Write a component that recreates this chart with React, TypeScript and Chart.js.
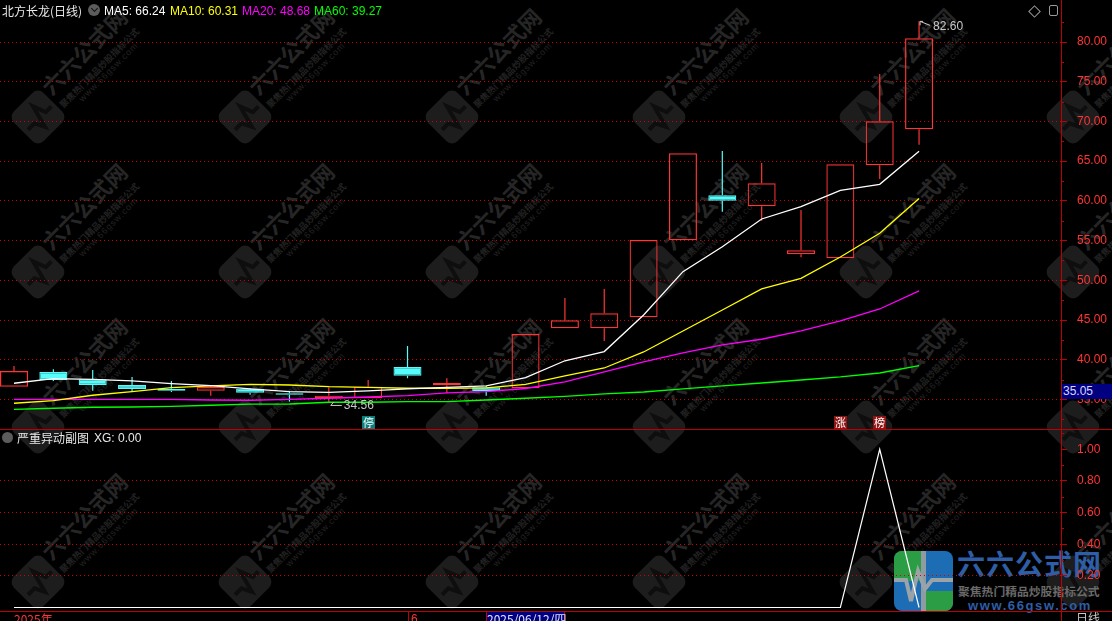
import React, { useEffect, useRef } from 'react';
import { Chart, registerables } from 'chart.js';

Chart.register(...registerables);

// ---------- data ----------
const opens = [36.61, 38.46, 37.54, 36.82, 36.36, 36.10, 36.36, 35.78, 35.15, 35.15, 39.09, 36.79, 36.53, 36.41, 43.96, 43.96, 45.34, 55.04, 60.70, 59.32, 53.28, 52.77, 64.48, 69.01];
const closes = [38.59, 37.45, 36.82, 36.32, 36.10, 36.57, 35.85, 35.60, 35.48, 36.61, 37.99, 37.08, 36.07, 43.24, 44.97, 45.85, 55.08, 65.99, 60.02, 62.21, 53.78, 64.61, 70.02, 80.47];
const highs = [39.21, 38.80, 38.71, 37.83, 37.33, 36.62, 36.45, 36.07, 36.53, 37.45, 41.73, 37.67, 36.70, 43.24, 47.78, 48.91, 55.08, 65.99, 66.28, 64.77, 58.85, 64.61, 75.97, 82.60];
const lows = [36.61, 37.33, 36.10, 35.98, 35.94, 35.48, 35.60, 34.72, 34.56, 35.15, 37.67, 35.78, 35.48, 36.41, 43.96, 42.36, 45.34, 55.04, 58.64, 57.50, 52.90, 52.77, 62.75, 67.07];

const ma5 = [37.04, 37.62, 37.54, 37.33, 36.99, 36.73, 36.32, 35.98, 35.90, 36.07, 36.32, 36.53, 36.70, 37.74, 39.87, 41.03, 45.63, 51.09, 54.23, 57.72, 59.27, 61.33, 62.09, 66.24];
const ma10 = [34.52, 34.85, 35.53, 35.98, 36.48, 36.70, 36.91, 36.82, 36.61, 36.53, 36.41, 36.41, 36.45, 36.91, 37.96, 38.96, 40.98, 43.62, 46.26, 48.91, 50.25, 52.93, 55.92, 60.31];
const ma20 = [35.02, 35.02, 35.02, 35.02, 35.02, 34.93, 34.90, 35.02, 35.15, 35.31, 35.48, 35.82, 35.98, 36.38, 37.20, 38.46, 39.72, 40.85, 41.86, 42.58, 43.62, 44.88, 46.39, 48.68];
const ma60 = [33.76, 33.89, 34.02, 34.05, 34.14, 34.27, 34.40, 34.43, 34.65, 34.65, 34.72, 34.72, 34.93, 35.15, 35.38, 35.69, 35.94, 36.32, 36.70, 37.07, 37.45, 37.83, 38.33, 39.27];

const xg = [0, 0, 0, 0, 0, 0, 0, 0, 0, 0, 0, 0, 0, 0, 0, 0, 0, 0, 0, 0, 0, 0, 1, 0];

const priceTicks = [35, 40, 45, 50, 55, 60, 65, 70, 75, 80];
const priceMinorTicks = [32.5, 37.5, 42.5, 47.5, 52.5, 57.5, 62.5, 67.5, 72.5, 77.5, 82.5];
const xgTicks = [0.2, 0.4, 0.6, 0.8, 1.0];
const xgMinorTicks = [0.1, 0.3, 0.5, 0.7, 0.9, 1.1];

const markerIndex = [9, 21, 22];
const markerText = ['停', '涨', '榜'];
const markerBg = ['#0a7f7c', '#8e1414', '#8e1414'];

const lowMarkIndex = 8;   // lowest low label
const highMarkIndex = 23; // highest high label

// watermark grid (decoration of the source screenshot)
const wmXs = [38, 245, 452, 659, 866, 1073];
const wmYs = [117, 272, 427, 582];

const FONT_NUM = '"Liberation Sans", Arial, sans-serif';
const FONT_CJK = '"Noto Sans CJK SC", "Liberation Sans", sans-serif';

const RED = '#ff3434';
const CYAN = '#54fcfc';
const GRID = '#d40000';
const AXIS = '#c00000';

const X_MIN = -0.3558;
const X_MAX = 26.607;

export default function App() {
  const mainRef = useRef<HTMLCanvasElement>(null);
  const subRef = useRef<HTMLCanvasElement>(null);

  useEffect(() => {
    document.body.style.margin = '0';
    document.body.style.background = '#000';
    const idx = opens.map((_, i) => i);
    const up = idx.map((i) => closes[i] >= opens[i]);
    const candleColor = idx.map((i) => (up[i] ? RED : CYAN));

    const xScale: any = { type: 'linear', min: X_MIN, max: X_MAX, display: false, offset: false, grid: { offset: false } };

    const mainOverlay = {
      id: 'mainOverlay',
      afterDraw(chart: any) {
        const { ctx, scales, chartArea } = chart;
        const x = scales.x;
        const y = scales.y;
        ctx.save();
        ctx.strokeStyle = AXIS;
        ctx.lineWidth = 1;
        ctx.setLineDash([]);
        for (const v of priceMinorTicks) {
          const py = Math.round(y.getPixelForValue(v)) + 0.5;
          ctx.beginPath();
          ctx.moveTo(y.left, py);
          ctx.lineTo(y.left + 3, py);
          ctx.stroke();
        }
        ctx.strokeStyle = '#c8c8c8';
        ctx.fillStyle = '#c8c8c8';
        const lx = x.getPixelForValue(lowMarkIndex);
        const ly = y.getPixelForValue(lows[lowMarkIndex]) + 2;
        ctx.beginPath();
        ctx.moveTo(lx + 2, ly + 0.5);
        ctx.lineTo(lx + 13, ly + 0.5);
        ctx.moveTo(lx + 2, ly + 0.5);
        ctx.lineTo(lx + 5, ly - 3);
        ctx.stroke();
        ctx.font = `12px ${FONT_NUM}`;
        ctx.textAlign = 'left';
        ctx.textBaseline = 'middle';
        ctx.fillText(lows[lowMarkIndex].toFixed(2), lx + 15, ly + 1);
        const hx = x.getPixelForValue(highMarkIndex);
        const hy = y.getPixelForValue(highs[highMarkIndex]);
        ctx.beginPath();
        ctx.moveTo(hx + 1, hy);
        ctx.lineTo(hx + 11, hy + 4);
        ctx.moveTo(hx + 1, hy);
        ctx.lineTo(hx + 1, hy + 4);
        ctx.moveTo(hx + 1, hy);
        ctx.lineTo(hx + 4, hy);
        ctx.stroke();
        ctx.fillText(highs[highMarkIndex].toFixed(2), hx + 14, hy + 5);
        markerIndex.forEach((ci, k) => {
          const px = x.getPixelForValue(ci);
          const left = Math.round(px - 6.5);
          const top = chartArea.bottom - 13;
          ctx.fillStyle = markerBg[k];
          ctx.fillRect(left, top, 13, 13);
          ctx.fillStyle = '#ffffff';
          ctx.font = `11px ${FONT_CJK}`;
          ctx.textAlign = 'center';
          ctx.textBaseline = 'middle';
          ctx.fillText(markerText[k], left + 6.5, top + 6.5);
        });
        ctx.restore();
      },
    };

    const subOverlay = {
      id: 'subOverlay',
      afterDraw(chart: any) {
        const { ctx, scales } = chart;
        const y = scales.y;
        ctx.save();
        ctx.strokeStyle = AXIS;
        ctx.lineWidth = 1;
        for (const v of xgMinorTicks) {
          const py = Math.round(y.getPixelForValue(v)) + 0.5;
          ctx.beginPath();
          ctx.moveTo(y.left, py);
          ctx.lineTo(y.left + 3, py);
          ctx.stroke();
        }
        ctx.restore();
      },
    };

    const yCommon = (ticks: number[], gridColor: any) => ({
      position: 'right',
      beginAtZero: false,
      afterBuildTicks: (s: any) => {
        s.ticks = ticks.map((v) => ({ value: v }));
      },
      afterFit: (s: any) => {
        s.width = 51;
        s.paddingTop = 0;
        s.paddingBottom = 0;
      },
      ticks: {
        autoSkip: false,
        color: RED,
        padding: 10,
        font: { size: 12, family: FONT_NUM },
        callback: (v: any) => Number(v).toFixed(2),
      },
      grid: {
        color: gridColor,
        lineWidth: 1,
        drawTicks: true,
        tickLength: 6,
        tickColor: AXIS,
        tickBorderDash: [],
      },
      border: { display: true, color: AXIS, width: 1, dash: [1, 3] },
    });

    const line = (label: string, data: number[], color: string, order: number) => ({
      type: 'line', label, data: data.map((v, i) => ({ x: i, y: v })),
      borderColor: color, borderWidth: 1.3, pointRadius: 0, tension: 0, order,
    });

    const main = new Chart(mainRef.current as HTMLCanvasElement, {
      type: 'bar',
      data: {
        datasets: [
          line('MA5', ma5, '#ffffff', 0) as any,
          line('MA10', ma10, '#ffff00', 1) as any,
          line('MA20', ma20, '#ff00ff', 2) as any,
          line('MA60', ma60, '#00ff00', 3) as any,
          {
            type: 'bar', label: 'body',
            data: idx.map((i) => ({ x: i, y: [opens[i], closes[i]] })),
            backgroundColor: idx.map((i) => (up[i] ? 'rgba(0,0,0,0)' : CYAN)),
            borderColor: candleColor,
            borderWidth: 1.2, borderSkipped: false, barThickness: 28, grouped: false,
            minBarLength: 1, inflateAmount: 0, order: 5,
          } as any,
          {
            type: 'bar', label: 'upper wick',
            data: idx.map((i) => ({ x: i, y: [Math.max(opens[i], closes[i]), highs[i]] })),
            backgroundColor: candleColor,
            borderWidth: 0, barThickness: 1.2, grouped: false, inflateAmount: 0, order: 6,
          } as any,
          {
            type: 'bar', label: 'lower wick',
            data: idx.map((i) => ({ x: i, y: [lows[i], Math.min(opens[i], closes[i])] })),
            backgroundColor: candleColor,
            borderWidth: 0, barThickness: 1.2, grouped: false, inflateAmount: 0, order: 7,
          } as any,
        ],
      },
      options: {
        animation: false,
        responsive: false,
        devicePixelRatio: 1,
        events: [],
        layout: { padding: 0 },
        plugins: { legend: { display: false }, tooltip: { enabled: false } },
        scales: {
          x: xScale,
          y: { ...yCommon(priceTicks, GRID), min: 31.28, max: 85.29 } as any,
        },
      },
      plugins: [mainOverlay],
    });

    const sub = new Chart(subRef.current as HTMLCanvasElement, {
      type: 'line',
      data: {
        datasets: [
          { label: 'XG', data: xg.map((v, i) => ({ x: i, y: v })), borderColor: '#ffffff', borderWidth: 1.2, pointRadius: 0, tension: 0 },
        ],
      },
      options: {
        animation: false,
        responsive: false,
        devicePixelRatio: 1,
        events: [],
        layout: { padding: 0 },
        plugins: { legend: { display: false }, tooltip: { enabled: false } },
        scales: {
          x: xScale,
          y: {
            ...yCommon(xgTicks, (c: any) => (c.tick && c.tick.value > 0.99 ? 'rgba(0,0,0,0)' : GRID)),
            min: -0.022, max: 1.122,
          } as any,
        },
      },
      plugins: [subOverlay],
    });

    return () => {
      main.destroy();
      sub.destroy();
    };
  }, []);

  const abs = (style: any) => ({ position: 'absolute', whiteSpace: 'nowrap', ...style });

  return (
    <div style={{ position: 'fixed', left: 0, top: 0, width: 1112, height: 621, background: '#000', overflow: 'hidden', fontFamily: FONT_NUM }}>
      {/* faint watermark tiles */}
      {wmYs.map((wy) => wmXs.map((wx) => (
        <div key={`${wx}-${wy}`} style={abs({ left: wx, top: wy, width: 0, height: 0, transform: 'rotate(-45deg)' })}>
          <div style={abs({ left: -21, top: -21, width: 42, height: 42, borderRadius: 8, background: '#1d1d1d' })}>
            <svg width={42} height={42} style={{ position: 'absolute', left: 0, top: 0 }}>
              <polyline points="5,23 14,23 19,33 25,10 30,23 38,23" stroke="#0e0e0e" strokeWidth={4} fill="none" />
            </svg>
          </div>
          <div style={abs({ left: 24, top: -28, fontSize: 22, lineHeight: '26px', fontWeight: 700, color: '#262626', fontFamily: FONT_CJK })}>六六公式网</div>
          <div style={abs({ left: 24, top: 3, fontSize: 9, lineHeight: '11px', fontWeight: 700, color: '#222222', fontFamily: FONT_CJK })}>聚焦热门精品炒股指标公式</div>
          <div style={abs({ left: 42, top: 13, fontSize: 9, lineHeight: '11px', color: '#222222', letterSpacing: 1 })}>www.66gsw.com</div>
        </div>
      )))}

      {/* site logo (behind the charts) */}
      <svg width={59} height={60} style={{ position: 'absolute', left: 894, top: 551 }}>
        <defs>
          <clipPath id="logoClip"><rect x={0} y={0} width={59} height={60} rx={8} /></clipPath>
        </defs>
        <g clipPath="url(#logoClip)">
          <rect x={0} y={0} width={59} height={60} fill="#1d6db4" />
          <rect x={0} y={0} width={27} height={30} fill="#2b9e45" />
          <rect x={32} y={40} width={27} height={20} fill="#2b9e45" />
          <rect x={27} y={0} width={5} height={60} fill="#8f9ba1" />
          <polyline points="0,29 12,29 17,50 24,20 31,38 38,29 59,29" stroke="#9aa3a8" strokeWidth={4} fill="none" />
        </g>
      </svg>
      <div style={abs({ left: 957, top: 546, fontSize: 28, fontWeight: 700, color: '#2d5ea6', fontFamily: FONT_CJK, lineHeight: '34px', letterSpacing: 1 })}>六六公式网</div>
      <div style={abs({ left: 958, top: 584, fontSize: 11.8, fontWeight: 700, color: '#6a6a6a', fontFamily: FONT_CJK, lineHeight: '14px' })}>聚焦热门精品炒股指标公式</div>
      <div style={abs({ left: 968, top: 598, fontSize: 13, fontWeight: 700, color: '#2d5ea6', fontFamily: FONT_NUM, lineHeight: '15px', letterSpacing: 1.6 })}>www.66gsw.com</div>

      <canvas ref={mainRef} width={1112} height={429} style={{ position: 'absolute', left: 0, top: 0 }} />
      <canvas ref={subRef} width={1112} height={181} style={{ position: 'absolute', left: 0, top: 430 }} />

      {/* panel separators */}
      <div style={abs({ left: 0, top: 429, width: 1112, height: 1, background: AXIS })} />
      <div style={abs({ left: 0, top: 611, width: 1112, height: 1, background: AXIS })} />
      <div style={abs({ left: 1061, top: 611, width: 1, height: 10, background: AXIS })} />
      <div style={abs({ left: 408, top: 611, width: 1, height: 10, background: AXIS })} />

      {/* main title */}
      <div style={abs({ left: 2, top: 3, fontSize: 12, lineHeight: '16px', color: '#e8e8e8', fontFamily: FONT_CJK })}>北方长龙(日线)</div>
      <div style={abs({ left: 88, top: 4, width: 12, height: 12, borderRadius: 6, background: '#5c5c5c' })}>
        <div style={abs({ left: 3.5, top: 2, width: 4, height: 4, borderRight: '1.5px solid #111', borderBottom: '1.5px solid #111', transform: 'rotate(45deg)' })} />
      </div>
      <div style={abs({ left: 104, top: 3, fontSize: 12, lineHeight: '16px', color: '#ffffff' })}>MA5: 66.24</div>
      <div style={abs({ left: 170, top: 3, fontSize: 12, lineHeight: '16px', color: '#ffff00' })}>MA10: 60.31</div>
      <div style={abs({ left: 242, top: 3, fontSize: 12, lineHeight: '16px', color: '#ff00ff' })}>MA20: 48.68</div>
      <div style={abs({ left: 314, top: 3, fontSize: 12, lineHeight: '16px', color: '#00ff00' })}>MA60: 39.27</div>

      {/* top right icons */}
      <div style={abs({ left: 1030, top: 7, width: 7, height: 7, border: '1px solid #9a9a9a', transform: 'rotate(45deg)' })} />
      <div style={abs({ left: 1049, top: 5, width: 7, height: 9, border: '1px solid #9a9a9a', borderRadius: 2 })} />

      {/* latest price tag */}
      <div style={abs({ left: 1062, top: 384, width: 50, height: 15, background: '#000080', color: '#d8d8ff', fontSize: 12, lineHeight: '15px', paddingLeft: 1 })}>35.05</div>

      {/* sub title */}
      <div style={abs({ left: 2, top: 432, width: 11, height: 11, borderRadius: 6, background: '#5c5c5c' })} />
      <div style={abs({ left: 17, top: 430, fontSize: 12, lineHeight: '16px', color: '#e8e8e8', fontFamily: FONT_CJK })}>严重异动副图</div>
      <div style={abs({ left: 94, top: 430, fontSize: 12, lineHeight: '16px', color: '#e8e8e8' })}>XG: 0.00</div>

      {/* date bar */}
      <div style={abs({ left: 14, top: 612, fontSize: 12, lineHeight: '14px', color: RED, fontFamily: FONT_CJK })}>2025年</div>
      <div style={abs({ left: 411, top: 612, fontSize: 12, lineHeight: '14px', color: RED })}>6</div>
      <div style={abs({ left: 486, top: 612, width: 77, height: 12, background: '#000080', borderLeft: `1px solid ${AXIS}`, borderRight: `1px solid ${AXIS}`, color: '#e0e0ff', fontSize: 12, lineHeight: '14px', fontFamily: FONT_CJK, textAlign: 'center' })}>2025/06/12/四</div>
      <div style={abs({ left: 1076, top: 611, fontSize: 12, lineHeight: '14px', color: '#c8c8c8', fontFamily: FONT_CJK })}>日线</div>
    </div>
  );
}
